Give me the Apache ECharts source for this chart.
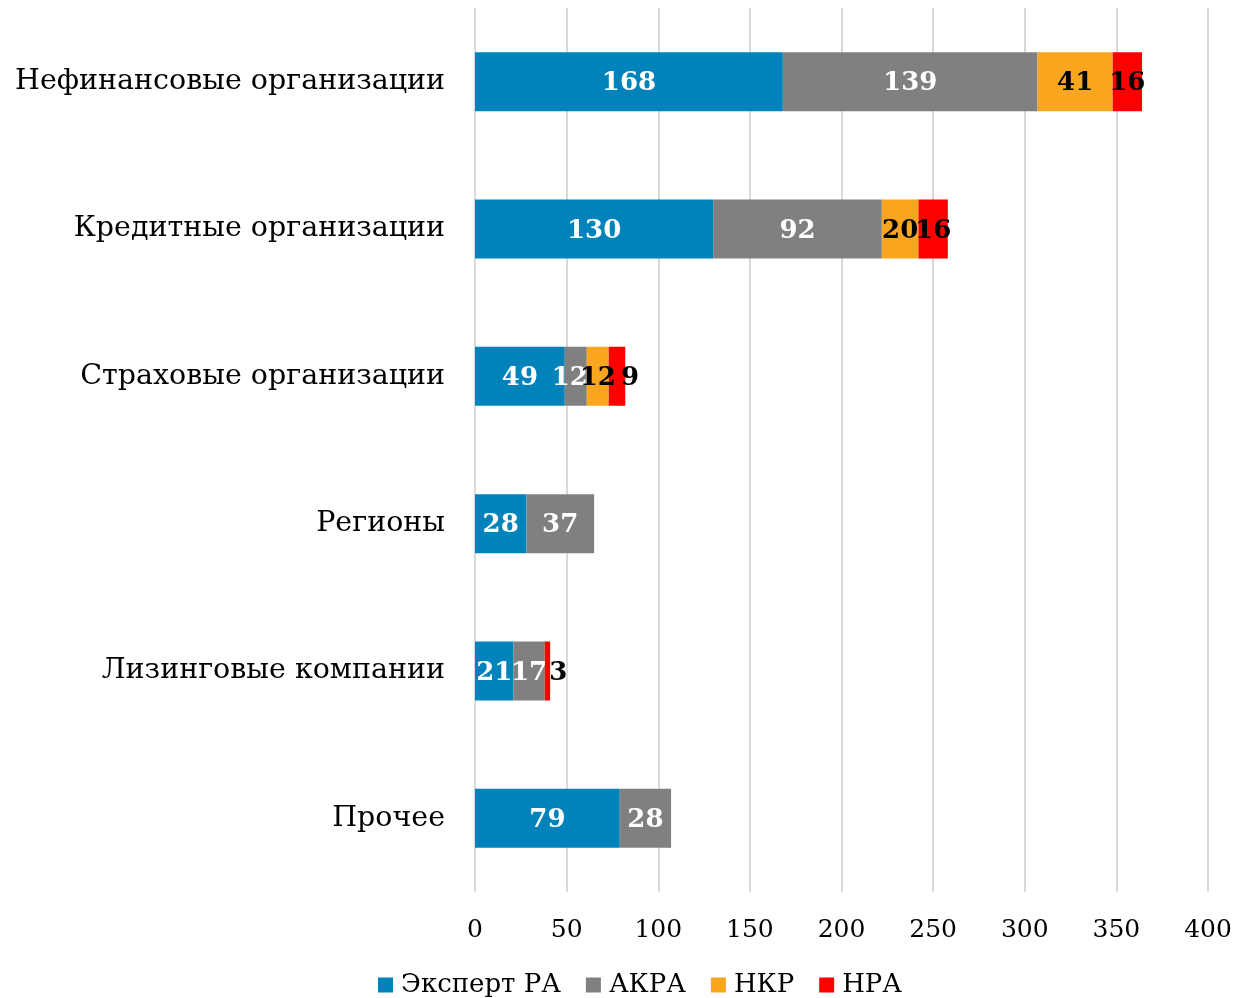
<!DOCTYPE html>
<html><head><meta charset="utf-8">
<script src="https://cdn.jsdelivr.net/npm/echarts@6/dist/echarts.min.js"></script>
<style>html,body{margin:0;padding:0;background:#fff}#c{width:1237px;height:998px}</style>
</head><body><div id="c"></div>
<script>
const categories = ['Нефинансовые организации','Кредитные организации','Страховые организации','Регионы','Лизинговые компании','Прочее'];
const seriesNames = ['Эксперт РА','АКРА','НКР','НРА'];
const expertRA = [168,130,49,28,21,79];
const akra = [139,92,12,37,17,28];
const nkr = [41,20,12,null,null,null];
const nra = [16,16,9,null,3,null];
const xTicks = [0,50,100,150,200,250,300,350,400];

const FONT = '"DejaVu Serif", "Liberation Serif", serif';
const colors = ['#0083BA','#808080','#F9A61E','#FF0000'];
const labelColors = ['#fff','#fff','#000','#000'];
const values = [expertRA, akra, nkr, nra];
// label shifts for tiny segments (style only)
const labelShift = {'3-2':[13,2],'3-4':[11,2],'1-2':[-6,2]};

const chart = echarts.init(document.getElementById('c'));
chart.setOption({
  animation:false,
  grid:{left:475,right:29,top:8,bottom:106,containLabel:false},
  legend:{bottom:-5,left:373,itemWidth:15,itemHeight:15,itemGap:25,icon:'rect',
    textStyle:{fontFamily:FONT,fontSize:26,color:'#000',padding:[0,0,0,3]},data:seriesNames},
  xAxis:{type:'value',min:xTicks[0],max:xTicks[xTicks.length-1],interval:xTicks[1]-xTicks[0],
    axisLine:{show:false},axisTick:{show:false},
    splitLine:{lineStyle:{color:'#d9d9d9',width:2}},
    axisLabel:{fontFamily:FONT,fontSize:25,color:'#000',margin:26}},
  yAxis:{type:'category',inverse:true,data:categories,
    axisLine:{show:false},axisTick:{show:false},
    axisLabel:{fontFamily:FONT,fontSize:28.5,color:'#000',margin:30}},
  series: seriesNames.map((n,i)=>({
    name:n,type:'bar',stack:'all',barWidth:59,
    itemStyle:{color:colors[i]},
    label:{show:true,position:'inside',offset:[0,2],fontFamily:FONT,fontWeight:'bold',fontSize:26,color:labelColors[i]},
    data:values[i].map((v,j)=>{
      const s = labelShift[i+'-'+j];
      return s ? {value:v,label:{offset:s}} : v;
    })
  }))
});
</script></body></html>
